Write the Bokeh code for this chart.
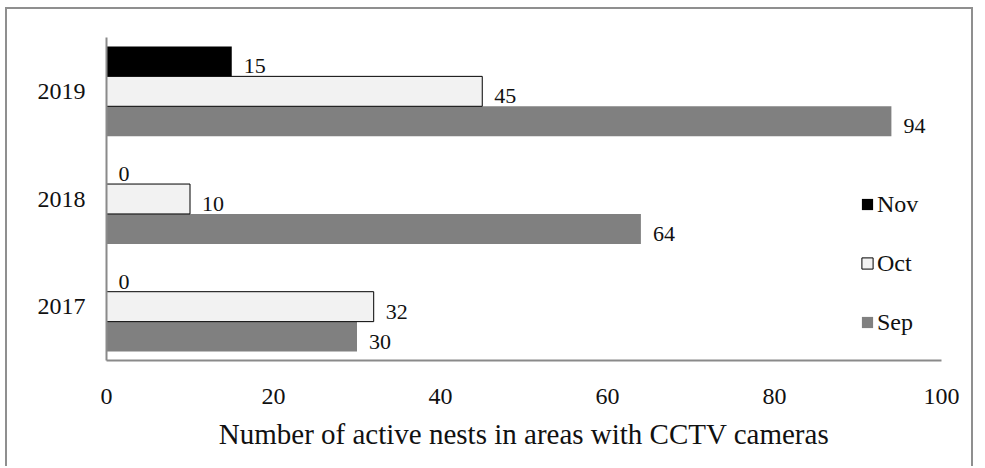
from bokeh.plotting import figure
from bokeh.models import Range1d, FactorRange, ColumnDataSource, Legend, LegendItem
from bokeh.transform import dodge
from bokeh.core.properties import value
from bokeh.embed import file_html
from bokeh.resources import INLINE

years = ["2017", "2018", "2019"]
sep = [30, 64, 94]
oct_ = [32, 10, 45]
nov = [0, 0, 15]
x_ticks = [0, 20, 40, 60, 80, 100]
x_title = "Number of active nests in areas with CCTV cameras"

FONT = "Liberation Serif"

src = ColumnDataSource(dict(year=years, sep=sep, oct=oct_, nov=nov,
                            sep_t=[str(v) for v in sep],
                            oct_t=[str(v) for v in oct_],
                            nov_t=[str(v) for v in nov]))

p = figure(width=968, height=459, y_range=FactorRange(*years, range_padding=0),
           x_range=Range1d(0, 100), output_backend="svg", toolbar_location=None,
           min_border_left=99, min_border_right=34, min_border_top=28, min_border_bottom=108)
p.styles = {"border": "2px solid #8f8f8f", "border-bottom": "none",
            "margin-left": "5px", "margin-top": "7px"}
p.outline_line_color = None
p.xgrid.visible = False
p.ygrid.visible = False

bh = 0.278
r_sep = p.hbar(y=dodge("year", -bh, range=p.y_range), right="sep", height=bh, source=src,
               fill_color="#808080", line_color=None)
r_oct = p.hbar(y=dodge("year", 0, range=p.y_range), right="oct", height=bh, source=src,
               fill_color="#f2f2f2", line_color="black", line_width=1)
r_nov = p.hbar(y=dodge("year", bh, range=p.y_range), right="nov", height=bh, source=src,
               fill_color="black", line_color=None)

for col, off in (("sep", -bh), ("oct", 0), ("nov", bh)):
    p.text(x=col, y=dodge("year", off, range=p.y_range), text=col + "_t", source=src,
           x_offset=12, y_offset=5, text_baseline="middle", text_align="left",
           text_font=value(FONT), text_font_size="22px", text_color="#111111")

for ax in (p.xaxis[0], p.yaxis[0]):
    ax.axis_line_color = "#8a8a8a"
    ax.axis_line_width = 2
    ax.major_tick_line_color = None
    ax.minor_tick_line_color = None
    ax.major_tick_out = 0
    ax.major_tick_in = 0
    ax.minor_tick_out = 0
    ax.major_label_text_font = FONT
    ax.major_label_text_font_size = "24px"
    ax.major_label_text_color = "#111111"

p.xaxis.ticker = x_ticks
p.xaxis.major_label_standoff = 28
p.yaxis.major_label_standoff = 21
p.xaxis.axis_label = x_title
p.xaxis.axis_label_text_font = FONT
p.xaxis.axis_label_text_font_size = "29px"
p.xaxis.axis_label_text_font_style = "normal"
p.xaxis.axis_label_text_color = "#111111"
p.xaxis.axis_label_standoff = 11

legend = Legend(items=[LegendItem(label="Nov", renderers=[r_nov]),
                       LegendItem(label="Oct", renderers=[r_oct]),
                       LegendItem(label="Sep", renderers=[r_sep])],
                location=(754, 24), orientation="vertical",
                label_text_font=FONT, label_text_font_size="24px", label_text_color="#111111",
                glyph_width=14, glyph_height=14, label_height=28, spacing=31,
                label_standoff=3, padding=0, margin=0,
                border_line_color=None, background_fill_alpha=0)
p.add_layout(legend, "center")

open("out.html", "w").write(file_html(p, INLINE))
